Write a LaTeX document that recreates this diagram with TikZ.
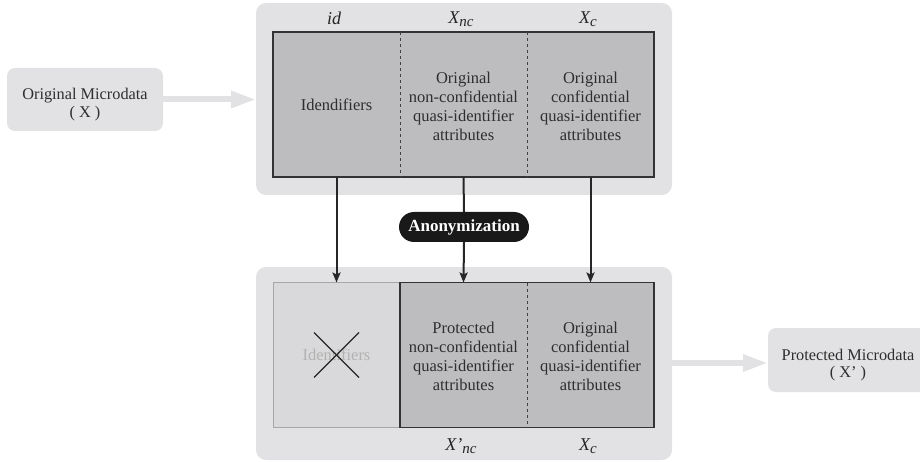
\documentclass[tikz,border=0pt]{standalone}
\usepackage{fontspec}
\setmainfont{Liberation Serif}
\usetikzlibrary{arrows.meta,positioning}

\definecolor{panelgray}{HTML}{E2E2E4}
\definecolor{cellgray}{HTML}{BDBDC0}
\definecolor{fadegray}{HTML}{D9D9DB}
\definecolor{inkgray}{HTML}{2E2E2E}

\newcommand{\attrsub}[1]{\raisebox{-0.4ex}{\fontsize{15}{15}\selectfont #1}}

\tikzset{
  panel/.style={fill=panelgray, rounded corners=10pt, inner sep=0pt, outer sep=0pt},
  databox/.style={fill=panelgray, rounded corners=8pt, inner sep=0pt, outer sep=0pt,
    text=inkgray, align=center, font=\fontsize{16.3}{17.5}\selectfont},
  cell/.style={fill=cellgray, minimum width=127pt, minimum height=145pt, inner sep=0pt,
    outer sep=0pt, text=inkgray, align=center, font=\fontsize{16.5}{19}\selectfont},
  attr/.style={font=\fontsize{18}{20}\selectfont\itshape, text=black!85},
  flow/.style={-{Triangle[length=25pt,width=16pt]}, line width=6pt, draw=panelgray},
  feed/.style={-{Stealth[length=10pt,width=8pt,inset=2pt]}, line width=2pt, draw=black!85}
}

\begin{document}
\begin{tikzpicture}[x=1pt, y=-1pt]

    % Define parameters
    \def\topy{104.5}   % middle of the upper table
    \def\boty{355}     % middle of the lower table

    \useasboundingbox (0,0) rectangle (920,462);
    \clip (0,0) rectangle (920,462);

    % panels
    \node[panel, minimum width=416pt, minimum height=192pt] (toppanel) at (464,99) {};
    \node[panel, minimum width=416pt, minimum height=193pt] (botpanel) at (464,363.5) {};

    % microdata boxes
    \node[databox, minimum width=156pt, minimum height=63pt] (orig) at (85,99.5)
        {\rule{0pt}{21pt}Original Microdata\\( X )};
    \node[databox, minimum width=160pt, minimum height=64pt] (prot) at (848,360)
        {\rule{0pt}{21pt}Protected Microdata\\( X' )};

    % upper table
    \node[cell] (idcol) at (336.5,\topy) {Idendifiers};
    \node[cell] (nccol) at (463.5,\topy) {\rule{0pt}{15pt}Original\\non-confidential\\quasi-identifier\\attributes};
    \node[cell] (ccol) at (590.5,\topy) {\rule{0pt}{15pt}Original\\confidential\\quasi-identifier\\attributes};
    \draw[line width=1.4pt, black!80] (idcol.north west) rectangle (ccol.south east);
    \draw[dashed, line width=1pt, black!75] (idcol.north east) -- (idcol.south east);
    \draw[dashed, line width=1pt, black!75] (nccol.north east) -- (nccol.south east);

    % lower table
    \node[cell, fill=fadegray, text=black!30, draw=black!35, line width=1pt] (fadecol) at (336.5,\boty) {Identifiers};
    \node[cell] (pnccol) at (463.5,\boty) {\rule{0pt}{15pt}Protected\\non-confidential\\quasi-identifier\\attributes};
    \node[cell] (pccol) at (590.5,\boty) {\rule{0pt}{15pt}Original\\confidential\\quasi-identifier\\attributes};
    \draw[line width=1.4pt, black!80] (pnccol.north west) rectangle (pccol.south east);
    \draw[dashed, line width=1pt, black!75] (pnccol.north east) -- (pnccol.south east);

    % crossed out
    \draw[black!85, line width=1.1pt] (fadecol.center) ++(-22.5,-22.5) -- ++(45,45);
    \draw[black!85, line width=1.1pt] (fadecol.center) ++(22.5,-22.5) -- ++(-45,45);

    % labels
    \node[attr] (idlab) at (334,18) {id};
    \node[attr] (nclab) at (461,19) {X\attrsub{nc}};
    \node[attr] (clab) at (588,19) {X\attrsub{c}};
    \node[attr] (pnclab) at (461,446) {X'\attrsub{nc}};
    \node[attr] (pclab) at (588,446) {X\attrsub{c}};

    % anonymization step
    \node[fill=black!90, text=white, rounded corners=15pt, minimum width=130pt,
        minimum height=30pt, font=\fontsize{17}{18}\bfseries] (anon) at (464,227) {Anonymization};

    % arrows
    \draw[flow] (orig.east) -- (toppanel.west |- orig.east);
    \draw[flow] (botpanel.east |- 0,363) -- (prot.west |- 0,363);
    \draw[feed] (idcol.south) -- (fadecol.north);
    \draw[line width=2pt, black!85] (nccol.south) -- (anon.north);
    \draw[feed] (anon.south) -- (pnccol.north);
    \draw[feed] (ccol.south) -- (pccol.north);

\end{tikzpicture}
\end{document}
